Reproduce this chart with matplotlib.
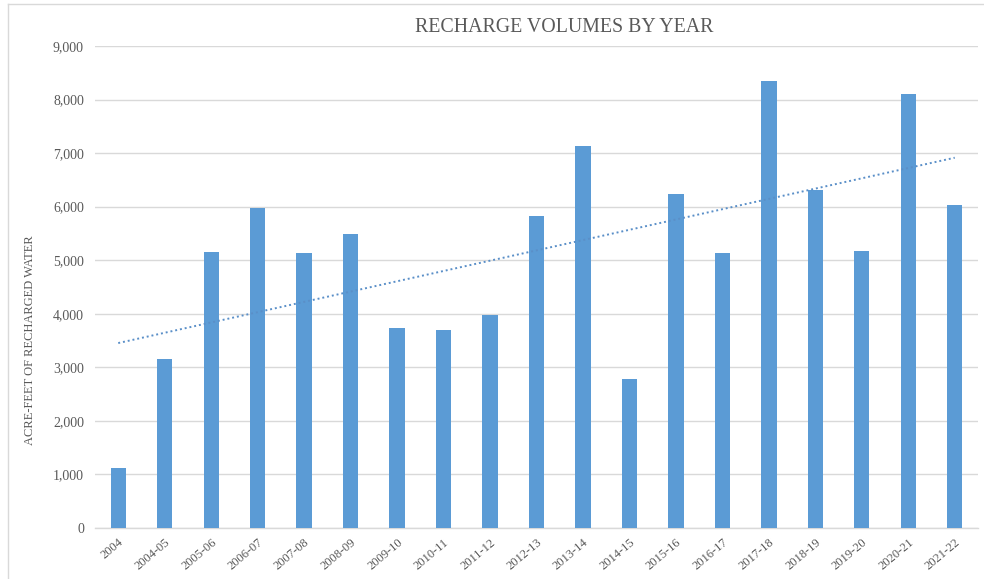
import numpy as np
import matplotlib.pyplot as plt
from matplotlib.lines import Line2D

years = ["2004", "2004-05", "2005-06", "2006-07", "2007-08", "2008-09", "2009-10",
         "2010-11", "2011-12", "2012-13", "2013-14", "2014-15", "2015-16", "2016-17",
         "2017-18", "2018-19", "2019-20", "2020-21", "2021-22"]
acre_feet = [1120, 3150, 5150, 5970, 5130, 5490, 3730, 3700, 3970, 5820,
             7140, 2780, 6230, 5140, 8340, 6320, 5170, 8110, 6030]
yticks = [0, 1000, 2000, 3000, 4000, 5000, 6000, 7000, 8000, 9000]

bar_color = "#5B9BD5"
text_color = "#595959"
grid_color = "#D9D9D9"
serif = ["Liberation Serif", "DejaVu Serif"]

fig = plt.figure(figsize=(9.84, 5.79), dpi=100)
ax = fig.add_axes([95 / 984, 1 - 528 / 579, (978 - 95) / 984, (528 - 46) / 579])

x = np.arange(len(years))
ax.bar(x, acre_feet, width=0.33, color=bar_color, zorder=3)

# linear trendline over the yearly totals
slope, intercept = np.polyfit(x, acre_feet, 1)
ax.plot(x, slope * x + intercept, linestyle=(0, (1, 1.5)), color="#5A8FC8",
        linewidth=1.4, zorder=4)

ax.set_xlim(-0.5, len(years) - 0.5)
ax.set_ylim(0, 9000)
ax.set_yticks(yticks)
ax.set_yticklabels([f"{v:,}" for v in yticks], fontfamily=serif, fontsize=10,
                   color=text_color)
ax.set_xticks(x)
ax.set_xticklabels(years, rotation=40, ha="right", rotation_mode="anchor",
                   fontfamily=serif, fontsize=9, color=text_color)
ax.tick_params(axis="both", length=0, pad=8)
ax.tick_params(axis="x", pad=6)

ax.grid(axis="y", color=grid_color, linewidth=1, zorder=0)
for side in ["top", "right", "left"]:
    ax.spines[side].set_visible(False)
ax.spines["bottom"].set_color(grid_color)
ax.spines["bottom"].set_linewidth(1)

ax.set_ylabel("ACRE-FEET OF RECHARGED WATER", fontfamily=serif, fontsize=9,
              color=text_color)
ax.yaxis.set_label_coords(-0.067, 0.39)
fig.text(564 / 984, 1 - 28 / 579, "RECHARGE VOLUMES BY YEAR", ha="center",
         va="center", fontfamily=serif, fontsize=14.3, color=text_color)

# chart frame
fig.add_artist(Line2D([8 / 984, 1], [1 - 4 / 579, 1 - 4 / 579],
                      transform=fig.transFigure, color=grid_color, linewidth=1))
fig.add_artist(Line2D([8 / 984, 8 / 984], [0, 1 - 4 / 579],
                      transform=fig.transFigure, color=grid_color, linewidth=1))

fig.savefig("out.png", dpi=100)
